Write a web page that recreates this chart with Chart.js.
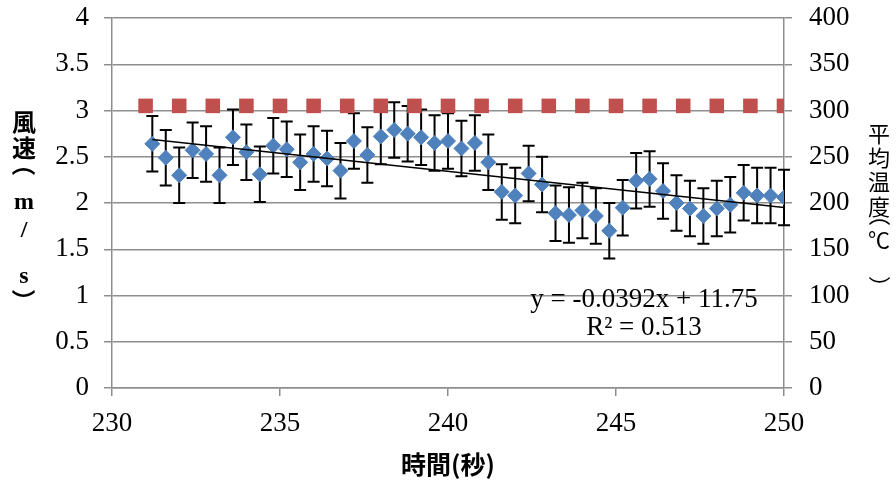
<!DOCTYPE html>
<html>
<head>
<meta charset="utf-8">
<script src="https://cdn.jsdelivr.net/npm/chart.js@4"></script>
<style>
  html, body { margin:0; padding:0; background:#fff; }
  #wrap { width:896px; height:482px; position:relative; }
</style>
</head>
<body>
<div id="wrap"><canvas id="chart" width="896" height="482"></canvas></div>
<script>
// ===== data =====
const times = [
  231.2, 231.6, 232.0, 232.4, 232.8, 233.2, 233.6, 234.0, 234.4, 234.8,
  235.2, 235.6, 236.0, 236.4, 236.8, 237.2, 237.6, 238.0, 238.4, 238.8,
  239.2, 239.6, 240.0, 240.4, 240.8, 241.2, 241.6, 242.0, 242.4, 242.8,
  243.2, 243.6, 244.0, 244.4, 244.8, 245.2, 245.6, 246.0, 246.4, 246.8,
  247.2, 247.6, 248.0, 248.4, 248.8, 249.2, 249.6, 250.0
];
const windSpeed = [
  2.64, 2.49, 2.30, 2.57, 2.53, 2.30, 2.71, 2.55, 2.31, 2.62,
  2.58, 2.44, 2.53, 2.48, 2.35, 2.67, 2.52, 2.72, 2.79, 2.75,
  2.71, 2.65, 2.67, 2.59, 2.65, 2.44, 2.12, 2.08, 2.32, 2.20,
  1.89, 1.87, 1.92, 1.86, 1.70, 1.95, 2.24, 2.26, 2.13, 2.00,
  1.94, 1.86, 1.94, 1.98, 2.11, 2.08, 2.08, 2.06
];
const windError = 0.3;

const tempTimes = [231, 232, 233, 234, 235, 236, 237, 238, 239, 240,
                   241, 242, 243, 244, 245, 246, 247, 248, 249, 250];
const temperature = [305, 305, 305, 305, 305, 305, 305, 305, 305, 305,
                     305, 305, 305, 305, 305, 305, 305, 305, 305, 305];

const trendSlope = -0.0392;
const trendIntercept = 11.75;
const trendRange = [231.2, 250];
const trendLabel = 'y = -0.0392x + 11.75';
const r2Label = 'R² = 0.513';

const xTickLabels = ['230', '235', '240', '245', '250'];
const leftTickLabels = ['0', '0.5', '1', '1.5', '2', '2.5', '3', '3.5', '4'];
const rightTickLabels = ['0', '50', '100', '150', '200', '250', '300', '350', '400'];

const xTitle = '時間(秒)';
const leftTitle = ['風', '速', '（', 'm', '/', 's', '）'];
const rightTitle = ['平', '均', '温', '度', '（', '℃', '）'];

// ===== styles =====
const GRID = '#8e8e8e';
const SERIF = "'Liberation Serif', 'Times New Roman', serif";
const tickFont = { family: SERIF, size: 27 };

// error bars go under the markers
const errorBars = {
  id: 'errorBars',
  beforeDatasetsDraw(chart){
    const { ctx, scales:{ x, y } } = chart;
    ctx.save();
    ctx.strokeStyle = '#000';
    ctx.lineWidth = 2;
    times.forEach((t, i) => {
      const px = x.getPixelForValue(t);
      const hi = y.getPixelForValue(windSpeed[i] + windError);
      const lo = y.getPixelForValue(windSpeed[i] - windError);
      ctx.beginPath();
      ctx.moveTo(px, hi); ctx.lineTo(px, lo);
      ctx.moveTo(px - 6, hi); ctx.lineTo(px + 6, hi);
      ctx.moveTo(px - 6, lo); ctx.lineTo(px + 6, lo);
      ctx.stroke();
    });
    ctx.restore();
  }
};

// stacked vertical titles; brackets are turned a quarter and centred on their ink
function drawStacked(ctx, chars, cx, ys, font){
  ctx.font = font;
  chars.forEach((c, i) => {
    ctx.save();
    ctx.translate(cx, ys[i]);
    if(c === '（' || c === '）'){
      ctx.rotate(Math.PI / 2);
      const m = ctx.measureText(c);
      const dx = (m.actualBoundingBoxRight - m.actualBoundingBoxLeft) / 2;
      const dy = (m.actualBoundingBoxDescent - m.actualBoundingBoxAscent) / 2;
      ctx.fillText(c, -dx, -dy);
    } else {
      ctx.fillText(c, 0, 0);
    }
    ctx.restore();
  });
}

const labels = {
  id: 'labels',
  afterDraw(chart){
    const { ctx, chartArea } = chart;
    ctx.save();
    ctx.fillStyle = '#000';
    ctx.textAlign = 'center';
    ctx.textBaseline = 'middle';

    ctx.font = `27px ${SERIF}`;
    ctx.fillText(trendLabel, 644, 300);
    ctx.fillText(r2Label, 644, 328);

    ctx.font = "bold 25px 'Noto Sans CJK JP', sans-serif";
    ctx.fillText(xTitle, (chartArea.left + chartArea.right) / 2, 464);

    drawStacked(ctx, leftTitle, 24, [125, 151, 171, 203, 231, 277, 294],
      "bold 24px 'Liberation Serif', 'Noto Sans CJK JP', serif");
    drawStacked(ctx, rightTitle, 879, [134, 158, 182, 207, 222, 240, 280],
      "22px 'Noto Sans CJK JP', sans-serif");
    ctx.restore();
  }
};

// label overhang would push the plot area down; keep it where the layout puts it
function fixWidth(w){
  return s => { s.width = w; s.paddingTop = 0; s.paddingBottom = 0; };
}

new Chart(document.getElementById('chart'), {
  type: 'scatter',
  data: {
    datasets: [
      {
        label: 'trend',
        type: 'line',
        data: trendRange.map(x => ({ x, y: trendSlope * x + trendIntercept })),
        borderColor: '#000',
        borderWidth: 1.5,
        pointRadius: 0,
        yAxisID: 'y',
        order: 0
      },
      {
        label: '平均温度',
        data: tempTimes.map((t, i) => ({ x: t, y: temperature[i] })),
        pointStyle: 'rect',
        pointRadius: 10.3,
        pointBorderWidth: 0,
        backgroundColor: '#C0504D',
        borderColor: '#C0504D',
        yAxisID: 'y2',
        order: 1
      },
      {
        label: '風速',
        data: times.map((t, i) => ({ x: t, y: windSpeed[i] })),
        pointStyle: 'rectRot',
        pointRadius: 7.5,
        pointBorderWidth: 1,
        backgroundColor: '#4F81BD',
        borderColor: '#4F81BD',
        yAxisID: 'y',
        order: 2
      }
    ]
  },
  options: {
    responsive: false,
    animation: false,
    layout: { padding: { top: 18, left: 0, right: 0, bottom: 0 } },
    plugins: { legend: { display: false }, tooltip: { enabled: false } },
    scales: {
      x: {
        type: 'linear', position: 'bottom', min: 230, max: 250,
        afterFit(s){ s.height = 94; },
        ticks: {
          stepSize: 5, padding: 12, color: '#000', font: tickFont,
          callback: (v, i) => xTickLabels[i]
        },
        grid: { drawOnChartArea: false, drawTicks: true, tickLength: 8, color: GRID, lineWidth: 1.5 },
        border: { color: GRID, width: 1.5 }
      },
      y: {
        position: 'left', min: 0, max: 4,
        afterFit: fixWidth(112),
        ticks: {
          stepSize: 0.5, padding: 15, color: '#000', font: tickFont,
          callback: (v, i) => leftTickLabels[i]
        },
        grid: { color: GRID, lineWidth: 1.5, tickLength: 8 },
        border: { color: GRID, width: 1.5 }
      },
      y2: {
        position: 'right', min: 0, max: 400,
        afterFit: fixWidth(112),
        ticks: {
          stepSize: 50, padding: 17, color: '#000', font: tickFont,
          callback: (v, i) => rightTickLabels[i]
        },
        grid: { drawOnChartArea: false, color: GRID, lineWidth: 1.5, tickLength: 8 },
        border: { color: GRID, width: 1.5 }
      }
    }
  },
  plugins: [errorBars, labels]
});
</script>
</body>
</html>
